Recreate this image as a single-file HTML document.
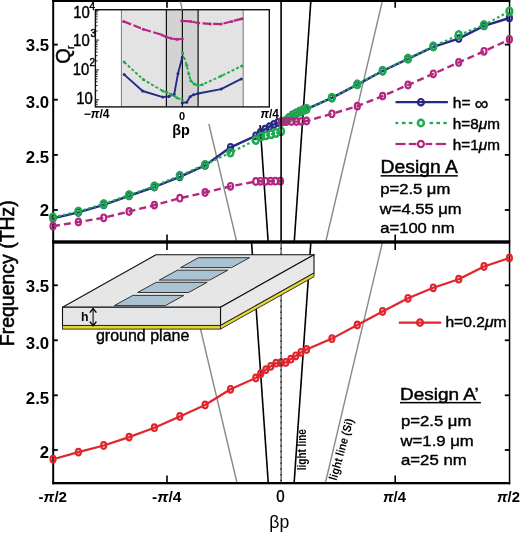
<!DOCTYPE html><html><head><meta charset="utf-8"><style>html,body{margin:0;padding:0;background:#fff;overflow:hidden;}svg{display:block;will-change:transform;}text{font-family:"Liberation Sans",sans-serif;}</style></head><body>
<svg width="520" height="533" viewBox="0 0 520 533">
<rect x="0" y="0" width="520" height="533" fill="#fff"/>
<line x1="260.1" y1="125" x2="268.1" y2="241" stroke="#000" stroke-width="1.6"/>
<line x1="310.9" y1="0" x2="294.3" y2="241" stroke="#000" stroke-width="1.6"/>
<line x1="208.9" y1="124" x2="236.5" y2="241" stroke="#8a8a8a" stroke-width="1.4"/>
<line x1="382.6" y1="0" x2="325.9" y2="241" stroke="#8a8a8a" stroke-width="1.4"/>
<line x1="251.6" y1="243" x2="268.2" y2="482" stroke="#000" stroke-width="1.6"/>
<line x1="310.8" y1="243" x2="294.2" y2="482" stroke="#000" stroke-width="1.6"/>
<line x1="193.6" y1="300" x2="236.8" y2="482" stroke="#8a8a8a" stroke-width="1.4"/>
<line x1="382.3" y1="243" x2="325.6" y2="482" stroke="#8a8a8a" stroke-width="1.4"/>
<rect x="52.2" y="0" width="2" height="484.3" fill="#000"/>
<rect x="52.2" y="0" width="458" height="2.0" fill="#000"/>
<rect x="508.8" y="0" width="1.5" height="484.3" fill="#000"/>
<rect x="52.2" y="482" width="458" height="2.3" fill="#000"/>
<rect x="52.2" y="240.3" width="458" height="3.4" fill="#000"/>
<polyline points="53.0,218.3 78.4,212.3 103.7,204.8 129.1,195.8 154.4,187.0 179.8,176.8 205.1,165.4 230.5,147.3 255.8,135.8 260.5,132.3 265.0,129.2 269.5,126.6 274.0,124.3 278.0,122.5" fill="none" stroke="#262a86" stroke-width="2.4" stroke-linejoin="round"/>
<ellipse cx="53.0" cy="218.3" rx="2.50" ry="3.30" fill="none" stroke="#262a86" stroke-width="2.2"/>
<ellipse cx="78.4" cy="212.3" rx="2.50" ry="3.30" fill="none" stroke="#262a86" stroke-width="2.2"/>
<ellipse cx="103.7" cy="204.8" rx="2.50" ry="3.30" fill="none" stroke="#262a86" stroke-width="2.2"/>
<ellipse cx="129.1" cy="195.8" rx="2.50" ry="3.30" fill="none" stroke="#262a86" stroke-width="2.2"/>
<ellipse cx="154.4" cy="187.0" rx="2.50" ry="3.30" fill="none" stroke="#262a86" stroke-width="2.2"/>
<ellipse cx="179.8" cy="176.8" rx="2.50" ry="3.30" fill="none" stroke="#262a86" stroke-width="2.2"/>
<ellipse cx="205.1" cy="165.4" rx="2.50" ry="3.30" fill="none" stroke="#262a86" stroke-width="2.2"/>
<ellipse cx="230.5" cy="147.3" rx="2.50" ry="3.30" fill="none" stroke="#262a86" stroke-width="2.2"/>
<ellipse cx="255.8" cy="135.8" rx="2.50" ry="3.30" fill="none" stroke="#262a86" stroke-width="2.2"/>
<ellipse cx="260.5" cy="132.3" rx="2.50" ry="3.30" fill="none" stroke="#262a86" stroke-width="2.2"/>
<ellipse cx="265.0" cy="129.2" rx="2.50" ry="3.30" fill="none" stroke="#262a86" stroke-width="2.2"/>
<ellipse cx="269.5" cy="126.6" rx="2.50" ry="3.30" fill="none" stroke="#262a86" stroke-width="2.2"/>
<ellipse cx="274.0" cy="124.3" rx="2.50" ry="3.30" fill="none" stroke="#262a86" stroke-width="2.2"/>
<ellipse cx="278.0" cy="122.5" rx="2.50" ry="3.30" fill="none" stroke="#262a86" stroke-width="2.2"/>
<polyline points="282.0,121.8 285.0,121.3 289.0,117.6 292.5,115.0 296.3,112.9 300.0,111.1 303.5,109.6 306.6,109.2 331.9,97.9 357.3,84.6 382.6,71.0 408.0,58.8 433.3,46.8 458.7,38.6 484.0,25.9 509.4,18.0" fill="none" stroke="#262a86" stroke-width="2.4" stroke-linejoin="round"/>
<ellipse cx="282.0" cy="121.8" rx="2.50" ry="3.30" fill="none" stroke="#262a86" stroke-width="2.2"/>
<ellipse cx="285.0" cy="121.3" rx="2.50" ry="3.30" fill="none" stroke="#262a86" stroke-width="2.2"/>
<ellipse cx="289.0" cy="117.6" rx="2.50" ry="3.30" fill="none" stroke="#262a86" stroke-width="2.2"/>
<ellipse cx="292.5" cy="115.0" rx="2.50" ry="3.30" fill="none" stroke="#262a86" stroke-width="2.2"/>
<ellipse cx="296.3" cy="112.9" rx="2.50" ry="3.30" fill="none" stroke="#262a86" stroke-width="2.2"/>
<ellipse cx="300.0" cy="111.1" rx="2.50" ry="3.30" fill="none" stroke="#262a86" stroke-width="2.2"/>
<ellipse cx="303.5" cy="109.6" rx="2.50" ry="3.30" fill="none" stroke="#262a86" stroke-width="2.2"/>
<ellipse cx="306.6" cy="109.2" rx="2.50" ry="3.30" fill="none" stroke="#262a86" stroke-width="2.2"/>
<ellipse cx="331.9" cy="97.9" rx="2.50" ry="3.30" fill="none" stroke="#262a86" stroke-width="2.2"/>
<ellipse cx="357.3" cy="84.6" rx="2.50" ry="3.30" fill="none" stroke="#262a86" stroke-width="2.2"/>
<ellipse cx="382.6" cy="71.0" rx="2.50" ry="3.30" fill="none" stroke="#262a86" stroke-width="2.2"/>
<ellipse cx="408.0" cy="58.8" rx="2.50" ry="3.30" fill="none" stroke="#262a86" stroke-width="2.2"/>
<ellipse cx="433.3" cy="46.8" rx="2.50" ry="3.30" fill="none" stroke="#262a86" stroke-width="2.2"/>
<ellipse cx="458.7" cy="38.6" rx="2.50" ry="3.30" fill="none" stroke="#262a86" stroke-width="2.2"/>
<ellipse cx="484.0" cy="25.9" rx="2.50" ry="3.30" fill="none" stroke="#262a86" stroke-width="2.2"/>
<ellipse cx="509.4" cy="18.0" rx="2.50" ry="3.30" fill="none" stroke="#262a86" stroke-width="2.2"/>
<polyline points="53.0,217.3 78.4,211.5 103.7,204.0 129.1,195.0 154.4,186.2 179.8,175.6 205.1,164.6 230.5,152.6 255.8,140.0 261.0,136.6 266.0,135.4 271.0,134.3 276.0,133.0 281.0,131.3" fill="none" stroke="#1fa94e" stroke-width="2.1" stroke-linejoin="round" stroke-dasharray="2.6,2.6"/>
<ellipse cx="53.0" cy="217.3" rx="2.90" ry="3.70" fill="none" stroke="#1fa94e" stroke-width="2.5"/>
<ellipse cx="78.4" cy="211.5" rx="2.90" ry="3.70" fill="none" stroke="#1fa94e" stroke-width="2.5"/>
<ellipse cx="103.7" cy="204.0" rx="2.90" ry="3.70" fill="none" stroke="#1fa94e" stroke-width="2.5"/>
<ellipse cx="129.1" cy="195.0" rx="2.90" ry="3.70" fill="none" stroke="#1fa94e" stroke-width="2.5"/>
<ellipse cx="154.4" cy="186.2" rx="2.90" ry="3.70" fill="none" stroke="#1fa94e" stroke-width="2.5"/>
<ellipse cx="179.8" cy="175.6" rx="2.90" ry="3.70" fill="none" stroke="#1fa94e" stroke-width="2.5"/>
<ellipse cx="205.1" cy="164.6" rx="2.90" ry="3.70" fill="none" stroke="#1fa94e" stroke-width="2.5"/>
<ellipse cx="230.5" cy="152.6" rx="2.90" ry="3.70" fill="none" stroke="#1fa94e" stroke-width="2.5"/>
<ellipse cx="255.8" cy="140.0" rx="2.90" ry="3.70" fill="none" stroke="#1fa94e" stroke-width="2.5"/>
<ellipse cx="261.0" cy="136.6" rx="2.90" ry="3.70" fill="none" stroke="#1fa94e" stroke-width="2.5"/>
<ellipse cx="266.0" cy="135.4" rx="2.90" ry="3.70" fill="none" stroke="#1fa94e" stroke-width="2.5"/>
<ellipse cx="271.0" cy="134.3" rx="2.90" ry="3.70" fill="none" stroke="#1fa94e" stroke-width="2.5"/>
<ellipse cx="276.0" cy="133.0" rx="2.90" ry="3.70" fill="none" stroke="#1fa94e" stroke-width="2.5"/>
<ellipse cx="281.0" cy="131.3" rx="2.90" ry="3.70" fill="none" stroke="#1fa94e" stroke-width="2.5"/>
<polyline points="282.0,121.6 285.0,121.0 289.0,118.0 292.5,115.6 296.3,113.4 300.0,111.6 303.5,110.0 306.6,108.8 331.9,97.7 357.3,84.3 382.6,70.7 408.0,58.5 433.3,46.3 458.7,35.0 484.0,25.0 509.4,11.3" fill="none" stroke="#1fa94e" stroke-width="2.1" stroke-linejoin="round" stroke-dasharray="2.6,2.6"/>
<ellipse cx="282.0" cy="121.6" rx="2.90" ry="3.70" fill="none" stroke="#1fa94e" stroke-width="2.5"/>
<ellipse cx="285.0" cy="121.0" rx="2.90" ry="3.70" fill="none" stroke="#1fa94e" stroke-width="2.5"/>
<ellipse cx="289.0" cy="118.0" rx="2.90" ry="3.70" fill="none" stroke="#1fa94e" stroke-width="2.5"/>
<ellipse cx="292.5" cy="115.6" rx="2.90" ry="3.70" fill="none" stroke="#1fa94e" stroke-width="2.5"/>
<ellipse cx="296.3" cy="113.4" rx="2.90" ry="3.70" fill="none" stroke="#1fa94e" stroke-width="2.5"/>
<ellipse cx="300.0" cy="111.6" rx="2.90" ry="3.70" fill="none" stroke="#1fa94e" stroke-width="2.5"/>
<ellipse cx="303.5" cy="110.0" rx="2.90" ry="3.70" fill="none" stroke="#1fa94e" stroke-width="2.5"/>
<ellipse cx="306.6" cy="108.8" rx="2.90" ry="3.70" fill="none" stroke="#1fa94e" stroke-width="2.5"/>
<ellipse cx="331.9" cy="97.7" rx="2.90" ry="3.70" fill="none" stroke="#1fa94e" stroke-width="2.5"/>
<ellipse cx="357.3" cy="84.3" rx="2.90" ry="3.70" fill="none" stroke="#1fa94e" stroke-width="2.5"/>
<ellipse cx="382.6" cy="70.7" rx="2.90" ry="3.70" fill="none" stroke="#1fa94e" stroke-width="2.5"/>
<ellipse cx="408.0" cy="58.5" rx="2.90" ry="3.70" fill="none" stroke="#1fa94e" stroke-width="2.5"/>
<ellipse cx="433.3" cy="46.3" rx="2.90" ry="3.70" fill="none" stroke="#1fa94e" stroke-width="2.5"/>
<ellipse cx="458.7" cy="35.0" rx="2.90" ry="3.70" fill="none" stroke="#1fa94e" stroke-width="2.5"/>
<ellipse cx="484.0" cy="25.0" rx="2.90" ry="3.70" fill="none" stroke="#1fa94e" stroke-width="2.5"/>
<ellipse cx="509.4" cy="11.3" rx="2.90" ry="3.70" fill="none" stroke="#1fa94e" stroke-width="2.5"/>
<polyline points="53.0,226.1 78.4,222.0 103.7,217.8 129.1,211.5 154.4,205.1 179.8,198.2 205.1,192.5 230.5,186.3 255.8,181.5 260.5,181.3 265.5,181.3 270.5,181.2 275.5,181.2 280.5,181.2" fill="none" stroke="#b4267f" stroke-width="2.4" stroke-linejoin="round" stroke-dasharray="7,4"/>
<ellipse cx="53.0" cy="226.1" rx="2.50" ry="3.30" fill="none" stroke="#b4267f" stroke-width="2.2"/>
<ellipse cx="78.4" cy="222.0" rx="2.50" ry="3.30" fill="none" stroke="#b4267f" stroke-width="2.2"/>
<ellipse cx="103.7" cy="217.8" rx="2.50" ry="3.30" fill="none" stroke="#b4267f" stroke-width="2.2"/>
<ellipse cx="129.1" cy="211.5" rx="2.50" ry="3.30" fill="none" stroke="#b4267f" stroke-width="2.2"/>
<ellipse cx="154.4" cy="205.1" rx="2.50" ry="3.30" fill="none" stroke="#b4267f" stroke-width="2.2"/>
<ellipse cx="179.8" cy="198.2" rx="2.50" ry="3.30" fill="none" stroke="#b4267f" stroke-width="2.2"/>
<ellipse cx="205.1" cy="192.5" rx="2.50" ry="3.30" fill="none" stroke="#b4267f" stroke-width="2.2"/>
<ellipse cx="230.5" cy="186.3" rx="2.50" ry="3.30" fill="none" stroke="#b4267f" stroke-width="2.2"/>
<ellipse cx="255.8" cy="181.5" rx="2.50" ry="3.30" fill="none" stroke="#b4267f" stroke-width="2.2"/>
<ellipse cx="260.5" cy="181.3" rx="2.50" ry="3.30" fill="none" stroke="#b4267f" stroke-width="2.2"/>
<ellipse cx="265.5" cy="181.3" rx="2.50" ry="3.30" fill="none" stroke="#b4267f" stroke-width="2.2"/>
<ellipse cx="270.5" cy="181.2" rx="2.50" ry="3.30" fill="none" stroke="#b4267f" stroke-width="2.2"/>
<ellipse cx="275.5" cy="181.2" rx="2.50" ry="3.30" fill="none" stroke="#b4267f" stroke-width="2.2"/>
<ellipse cx="280.5" cy="181.2" rx="2.50" ry="3.30" fill="none" stroke="#b4267f" stroke-width="2.2"/>
<polyline points="281.5,121.6 286.5,121.6 291.5,121.6 296.5,121.6 301.5,121.4 306.6,121.0 331.9,113.8 357.3,106.2 382.6,96.1 408.0,85.0 433.3,73.8 458.7,62.5 484.0,51.3 509.4,39.5" fill="none" stroke="#b4267f" stroke-width="2.4" stroke-linejoin="round" stroke-dasharray="7,4"/>
<ellipse cx="281.5" cy="121.6" rx="2.50" ry="3.30" fill="none" stroke="#b4267f" stroke-width="2.2"/>
<ellipse cx="286.5" cy="121.6" rx="2.50" ry="3.30" fill="none" stroke="#b4267f" stroke-width="2.2"/>
<ellipse cx="291.5" cy="121.6" rx="2.50" ry="3.30" fill="none" stroke="#b4267f" stroke-width="2.2"/>
<ellipse cx="296.5" cy="121.6" rx="2.50" ry="3.30" fill="none" stroke="#b4267f" stroke-width="2.2"/>
<ellipse cx="301.5" cy="121.4" rx="2.50" ry="3.30" fill="none" stroke="#b4267f" stroke-width="2.2"/>
<ellipse cx="306.6" cy="121.0" rx="2.50" ry="3.30" fill="none" stroke="#b4267f" stroke-width="2.2"/>
<ellipse cx="331.9" cy="113.8" rx="2.50" ry="3.30" fill="none" stroke="#b4267f" stroke-width="2.2"/>
<ellipse cx="357.3" cy="106.2" rx="2.50" ry="3.30" fill="none" stroke="#b4267f" stroke-width="2.2"/>
<ellipse cx="382.6" cy="96.1" rx="2.50" ry="3.30" fill="none" stroke="#b4267f" stroke-width="2.2"/>
<ellipse cx="408.0" cy="85.0" rx="2.50" ry="3.30" fill="none" stroke="#b4267f" stroke-width="2.2"/>
<ellipse cx="433.3" cy="73.8" rx="2.50" ry="3.30" fill="none" stroke="#b4267f" stroke-width="2.2"/>
<ellipse cx="458.7" cy="62.5" rx="2.50" ry="3.30" fill="none" stroke="#b4267f" stroke-width="2.2"/>
<ellipse cx="484.0" cy="51.3" rx="2.50" ry="3.30" fill="none" stroke="#b4267f" stroke-width="2.2"/>
<ellipse cx="509.4" cy="39.5" rx="2.50" ry="3.30" fill="none" stroke="#b4267f" stroke-width="2.2"/>
<polyline points="53.0,459.2 78.4,452.1 103.7,445.5 129.1,437.1 154.4,427.7 179.8,416.5 205.1,405.0 230.5,389.3 255.8,378.0 260.7,373.7 265.9,369.6 270.8,366.3 276.0,363.2 281.0,362.7 285.8,362.5 290.8,359.2 295.8,355.8 301.0,352.3 306.6,349.5 331.9,338.6 357.3,325.0 382.6,311.5 408.0,298.3 433.3,287.8 458.7,279.2 484.0,266.5 509.4,258.0" fill="none" stroke="#e0252c" stroke-width="2.2" stroke-linejoin="round"/>
<ellipse cx="53.0" cy="459.2" rx="2.50" ry="3.30" fill="none" stroke="#e0252c" stroke-width="2.2"/>
<ellipse cx="78.4" cy="452.1" rx="2.50" ry="3.30" fill="none" stroke="#e0252c" stroke-width="2.2"/>
<ellipse cx="103.7" cy="445.5" rx="2.50" ry="3.30" fill="none" stroke="#e0252c" stroke-width="2.2"/>
<ellipse cx="129.1" cy="437.1" rx="2.50" ry="3.30" fill="none" stroke="#e0252c" stroke-width="2.2"/>
<ellipse cx="154.4" cy="427.7" rx="2.50" ry="3.30" fill="none" stroke="#e0252c" stroke-width="2.2"/>
<ellipse cx="179.8" cy="416.5" rx="2.50" ry="3.30" fill="none" stroke="#e0252c" stroke-width="2.2"/>
<ellipse cx="205.1" cy="405.0" rx="2.50" ry="3.30" fill="none" stroke="#e0252c" stroke-width="2.2"/>
<ellipse cx="230.5" cy="389.3" rx="2.50" ry="3.30" fill="none" stroke="#e0252c" stroke-width="2.2"/>
<ellipse cx="255.8" cy="378.0" rx="2.50" ry="3.30" fill="none" stroke="#e0252c" stroke-width="2.2"/>
<ellipse cx="260.7" cy="373.7" rx="2.50" ry="3.30" fill="none" stroke="#e0252c" stroke-width="2.2"/>
<ellipse cx="265.9" cy="369.6" rx="2.50" ry="3.30" fill="none" stroke="#e0252c" stroke-width="2.2"/>
<ellipse cx="270.8" cy="366.3" rx="2.50" ry="3.30" fill="none" stroke="#e0252c" stroke-width="2.2"/>
<ellipse cx="276.0" cy="363.2" rx="2.50" ry="3.30" fill="none" stroke="#e0252c" stroke-width="2.2"/>
<ellipse cx="281.0" cy="362.7" rx="2.50" ry="3.30" fill="none" stroke="#e0252c" stroke-width="2.2"/>
<ellipse cx="285.8" cy="362.5" rx="2.50" ry="3.30" fill="none" stroke="#e0252c" stroke-width="2.2"/>
<ellipse cx="290.8" cy="359.2" rx="2.50" ry="3.30" fill="none" stroke="#e0252c" stroke-width="2.2"/>
<ellipse cx="295.8" cy="355.8" rx="2.50" ry="3.30" fill="none" stroke="#e0252c" stroke-width="2.2"/>
<ellipse cx="301.0" cy="352.3" rx="2.50" ry="3.30" fill="none" stroke="#e0252c" stroke-width="2.2"/>
<ellipse cx="306.6" cy="349.5" rx="2.50" ry="3.30" fill="none" stroke="#e0252c" stroke-width="2.2"/>
<ellipse cx="331.9" cy="338.6" rx="2.50" ry="3.30" fill="none" stroke="#e0252c" stroke-width="2.2"/>
<ellipse cx="357.3" cy="325.0" rx="2.50" ry="3.30" fill="none" stroke="#e0252c" stroke-width="2.2"/>
<ellipse cx="382.6" cy="311.5" rx="2.50" ry="3.30" fill="none" stroke="#e0252c" stroke-width="2.2"/>
<ellipse cx="408.0" cy="298.3" rx="2.50" ry="3.30" fill="none" stroke="#e0252c" stroke-width="2.2"/>
<ellipse cx="433.3" cy="287.8" rx="2.50" ry="3.30" fill="none" stroke="#e0252c" stroke-width="2.2"/>
<ellipse cx="458.7" cy="279.2" rx="2.50" ry="3.30" fill="none" stroke="#e0252c" stroke-width="2.2"/>
<ellipse cx="484.0" cy="266.5" rx="2.50" ry="3.30" fill="none" stroke="#e0252c" stroke-width="2.2"/>
<ellipse cx="509.4" cy="258.0" rx="2.50" ry="3.30" fill="none" stroke="#e0252c" stroke-width="2.2"/>
<line x1="281.1" y1="0" x2="281.1" y2="242" stroke="#000" stroke-width="1.6"/>
<line x1="281.1" y1="242" x2="281.1" y2="482" stroke="#555" stroke-width="1.3"/>
<line x1="281.1" y1="242" x2="281.1" y2="482" stroke="#1a1a1a" stroke-width="1.3" stroke-dasharray="1.5,4.3"/>
<rect x="54" y="43.7" width="3.8" height="1.8" fill="#000"/>
<rect x="504.8" y="43.7" width="4.2" height="1.8" fill="#000"/>
<text x="49.2" y="51.3" font-size="16.8" font-weight="bold" text-anchor="end" fill="#000"  style="">3.5</text>
<rect x="54" y="98.8" width="3.8" height="1.8" fill="#000"/>
<rect x="504.8" y="98.8" width="4.2" height="1.8" fill="#000"/>
<text x="49.2" y="107.8" font-size="16.8" font-weight="bold" text-anchor="end" fill="#000"  style="">3.0</text>
<rect x="54" y="154.0" width="3.8" height="1.8" fill="#000"/>
<rect x="504.8" y="154.0" width="4.2" height="1.8" fill="#000"/>
<text x="49.2" y="163.3" font-size="16.8" font-weight="bold" text-anchor="end" fill="#000"  style="">2.5</text>
<rect x="54" y="209.1" width="3.8" height="1.8" fill="#000"/>
<rect x="504.8" y="209.1" width="4.2" height="1.8" fill="#000"/>
<text x="49.2" y="216.4" font-size="16.8" font-weight="bold" text-anchor="end" fill="#000"  style="">2</text>
<rect x="54" y="284.4" width="3.8" height="1.8" fill="#000"/>
<rect x="504.8" y="284.4" width="4.2" height="1.8" fill="#000"/>
<text x="49.2" y="292.3" font-size="16.8" font-weight="bold" text-anchor="end" fill="#000"  style="">3.5</text>
<rect x="54" y="339.4" width="3.8" height="1.8" fill="#000"/>
<rect x="504.8" y="339.4" width="4.2" height="1.8" fill="#000"/>
<text x="49.2" y="348.9" font-size="16.8" font-weight="bold" text-anchor="end" fill="#000"  style="">3.0</text>
<rect x="54" y="394.4" width="3.8" height="1.8" fill="#000"/>
<rect x="504.8" y="394.4" width="4.2" height="1.8" fill="#000"/>
<text x="49.2" y="404.0" font-size="16.8" font-weight="bold" text-anchor="end" fill="#000"  style="">2.5</text>
<rect x="54" y="449.1" width="3.8" height="1.8" fill="#000"/>
<rect x="504.8" y="449.1" width="4.2" height="1.8" fill="#000"/>
<text x="49.2" y="458.2" font-size="16.8" font-weight="bold" text-anchor="end" fill="#000"  style="">2</text>
<rect x="166.2" y="1" width="1.6" height="6.8" fill="#000"/>
<rect x="166.2" y="234.5" width="1.6" height="15.5" fill="#000"/>
<rect x="166.2" y="475.5" width="1.6" height="7" fill="#000"/>
<rect x="394.4" y="1" width="1.6" height="6.8" fill="#000"/>
<rect x="394.4" y="234.5" width="1.6" height="15.5" fill="#000"/>
<rect x="394.4" y="475.5" width="1.6" height="7" fill="#000"/>
<text x="52.8" y="501.8" font-size="13.8" font-weight="bold" text-anchor="middle" fill="#000" textLength="28.5" lengthAdjust="spacingAndGlyphs"  style="">-<tspan font-style="italic">π</tspan>/2</text>
<text x="166.8" y="501.8" font-size="13.8" font-weight="bold" text-anchor="middle" fill="#000" textLength="29.4" lengthAdjust="spacingAndGlyphs"  style="">-<tspan font-style="italic">π</tspan>/4</text>
<text x="280.5" y="502.3" font-size="16.8" font-weight="normal" text-anchor="middle" fill="#000" textLength="8.4" lengthAdjust="spacingAndGlyphs" stroke="#000" stroke-width="0.45"  style="">0</text>
<text x="394.5" y="501.8" font-size="13.8" font-weight="bold" text-anchor="middle" fill="#000" textLength="23" lengthAdjust="spacingAndGlyphs"  style=""><tspan font-style="italic">π</tspan>/4</text>
<text x="508.5" y="501.8" font-size="13.8" font-weight="bold" text-anchor="middle" fill="#000" textLength="23" lengthAdjust="spacingAndGlyphs"  style=""><tspan font-style="italic">π</tspan>/2</text>
<text x="279.3" y="528.2" font-size="17.6" font-weight="normal" text-anchor="middle" fill="#000"  style="">βp</text>
<text x="0" y="0" font-size="19.6" text-anchor="middle" stroke="#000" stroke-width="0.55" textLength="146" lengthAdjust="spacingAndGlyphs" transform="translate(14.3,273.2) rotate(-90)">Frequency (THz)</text>
<rect x="95.4" y="9.7" width="173.9" height="97.2" fill="#fff"/>
<rect x="121.4" y="9.7" width="121.79999999999998" height="97.2" fill="#e3e3e3"/>
<rect x="166.4" y="9.7" width="31.69999999999999" height="97.2" fill="#d3d3d3"/>
<line x1="121.4" y1="9.7" x2="121.4" y2="106.9" stroke="#6a6a6a" stroke-width="0.9"/>
<line x1="243.2" y1="9.7" x2="243.2" y2="106.9" stroke="#6a6a6a" stroke-width="0.9"/>
<line x1="166.4" y1="9.7" x2="166.4" y2="106.9" stroke="#111" stroke-width="1.2"/>
<line x1="182.4" y1="9.7" x2="182.4" y2="106.9" stroke="#111" stroke-width="1.2"/>
<line x1="198.1" y1="9.7" x2="198.1" y2="106.9" stroke="#111" stroke-width="1.2"/>
<polyline points="123.7,21.4 143.3,29.2 162.1,34.9 166.1,36.9 171.5,38.5 176.9,39.3 182.3,38.9" fill="none" stroke="#b4267f" stroke-width="2.2" stroke-linejoin="round" stroke-dasharray="8,2.5"/>
<circle cx="123.7" cy="21.4" r="1.5" fill="#b4267f"/>
<circle cx="143.3" cy="29.2" r="1.5" fill="#b4267f"/>
<circle cx="162.1" cy="34.9" r="1.5" fill="#b4267f"/>
<circle cx="166.1" cy="36.9" r="1.5" fill="#b4267f"/>
<circle cx="171.5" cy="38.5" r="1.5" fill="#b4267f"/>
<circle cx="176.9" cy="39.3" r="1.5" fill="#b4267f"/>
<circle cx="182.3" cy="38.9" r="1.5" fill="#b4267f"/>
<polyline points="181.8,20.8 190.8,21.4 198.2,23.0 210.3,23.9 221.1,24.1 231.8,21.4 241.9,18.7" fill="none" stroke="#b4267f" stroke-width="2.2" stroke-linejoin="round" stroke-dasharray="8,2.5"/>
<circle cx="181.8" cy="20.8" r="1.5" fill="#b4267f"/>
<circle cx="190.8" cy="21.4" r="1.5" fill="#b4267f"/>
<circle cx="198.2" cy="23.0" r="1.5" fill="#b4267f"/>
<circle cx="210.3" cy="23.9" r="1.5" fill="#b4267f"/>
<circle cx="221.1" cy="24.1" r="1.5" fill="#b4267f"/>
<circle cx="231.8" cy="21.4" r="1.5" fill="#b4267f"/>
<circle cx="241.9" cy="18.7" r="1.5" fill="#b4267f"/>
<polyline points="124.2,74.6 142.6,91.0 162.8,97.1 168.8,96.4 174.2,94.4 178.0,73.6 182.3,57.2" fill="none" stroke="#262a86" stroke-width="1.9" stroke-linejoin="round"/>
<circle cx="124.2" cy="74.6" r="1.5" fill="#262a86"/>
<circle cx="142.6" cy="91.0" r="1.5" fill="#262a86"/>
<circle cx="162.8" cy="97.1" r="1.5" fill="#262a86"/>
<circle cx="168.8" cy="96.4" r="1.5" fill="#262a86"/>
<circle cx="174.2" cy="94.4" r="1.5" fill="#262a86"/>
<circle cx="178.0" cy="73.6" r="1.5" fill="#262a86"/>
<circle cx="182.3" cy="57.2" r="1.5" fill="#262a86"/>
<polyline points="182.3,102.9 186.7,102.2 190.1,96.8 193.5,94.8 198.2,93.5 221.1,89.1 241.3,78.9" fill="none" stroke="#262a86" stroke-width="1.9" stroke-linejoin="round"/>
<circle cx="182.3" cy="102.9" r="1.5" fill="#262a86"/>
<circle cx="186.7" cy="102.2" r="1.5" fill="#262a86"/>
<circle cx="190.1" cy="96.8" r="1.5" fill="#262a86"/>
<circle cx="193.5" cy="94.8" r="1.5" fill="#262a86"/>
<circle cx="198.2" cy="93.5" r="1.5" fill="#262a86"/>
<circle cx="221.1" cy="89.1" r="1.5" fill="#262a86"/>
<circle cx="241.3" cy="78.9" r="1.5" fill="#262a86"/>
<polyline points="124.2,62.1 143.3,79.6 162.8,91.0 166.8,92.4 171.5,94.4 176.9,97.8 182.3,99.8" fill="none" stroke="#1fa94e" stroke-width="1.9" stroke-linejoin="round" stroke-dasharray="3,2"/>
<circle cx="124.2" cy="62.1" r="1.5" fill="#1fa94e"/>
<circle cx="143.3" cy="79.6" r="1.5" fill="#1fa94e"/>
<circle cx="162.8" cy="91.0" r="1.5" fill="#1fa94e"/>
<circle cx="166.8" cy="92.4" r="1.5" fill="#1fa94e"/>
<circle cx="171.5" cy="94.4" r="1.5" fill="#1fa94e"/>
<circle cx="176.9" cy="97.8" r="1.5" fill="#1fa94e"/>
<circle cx="182.3" cy="99.8" r="1.5" fill="#1fa94e"/>
<polyline points="182.5,52.4 186.7,65.2 188.8,73.9 190.8,80.7 194.2,84.0 198.2,85.4 202.2,84.7 221.1,76.0 241.9,65.9" fill="none" stroke="#1fa94e" stroke-width="1.9" stroke-linejoin="round" stroke-dasharray="3,2"/>
<circle cx="182.5" cy="52.4" r="1.5" fill="#1fa94e"/>
<circle cx="186.7" cy="65.2" r="1.5" fill="#1fa94e"/>
<circle cx="188.8" cy="73.9" r="1.5" fill="#1fa94e"/>
<circle cx="190.8" cy="80.7" r="1.5" fill="#1fa94e"/>
<circle cx="194.2" cy="84.0" r="1.5" fill="#1fa94e"/>
<circle cx="198.2" cy="85.4" r="1.5" fill="#1fa94e"/>
<circle cx="202.2" cy="84.7" r="1.5" fill="#1fa94e"/>
<circle cx="221.1" cy="76.0" r="1.5" fill="#1fa94e"/>
<circle cx="241.9" cy="65.9" r="1.5" fill="#1fa94e"/>
<rect x="95.4" y="9.7" width="173.9" height="97.2" fill="none" stroke="#111" stroke-width="1.4"/>
<line x1="95.4" y1="99.75" x2="99.0" y2="99.75" stroke="#111" stroke-width="0.9"/>
<line x1="95.4" y1="90.76" x2="97.60000000000001" y2="90.76" stroke="#111" stroke-width="0.9"/>
<line x1="95.4" y1="85.51" x2="97.60000000000001" y2="85.51" stroke="#111" stroke-width="0.9"/>
<line x1="95.4" y1="81.78" x2="97.60000000000001" y2="81.78" stroke="#111" stroke-width="0.9"/>
<line x1="95.4" y1="78.89" x2="97.60000000000001" y2="78.89" stroke="#111" stroke-width="0.9"/>
<line x1="95.4" y1="76.52" x2="97.60000000000001" y2="76.52" stroke="#111" stroke-width="0.9"/>
<line x1="95.4" y1="74.52" x2="97.60000000000001" y2="74.52" stroke="#111" stroke-width="0.9"/>
<line x1="95.4" y1="72.79" x2="97.60000000000001" y2="72.79" stroke="#111" stroke-width="0.9"/>
<line x1="95.4" y1="71.27" x2="97.60000000000001" y2="71.27" stroke="#111" stroke-width="0.9"/>
<line x1="95.4" y1="69.90" x2="99.0" y2="69.90" stroke="#111" stroke-width="0.9"/>
<line x1="95.4" y1="60.91" x2="97.60000000000001" y2="60.91" stroke="#111" stroke-width="0.9"/>
<line x1="95.4" y1="55.66" x2="97.60000000000001" y2="55.66" stroke="#111" stroke-width="0.9"/>
<line x1="95.4" y1="51.93" x2="97.60000000000001" y2="51.93" stroke="#111" stroke-width="0.9"/>
<line x1="95.4" y1="49.04" x2="97.60000000000001" y2="49.04" stroke="#111" stroke-width="0.9"/>
<line x1="95.4" y1="46.67" x2="97.60000000000001" y2="46.67" stroke="#111" stroke-width="0.9"/>
<line x1="95.4" y1="44.67" x2="97.60000000000001" y2="44.67" stroke="#111" stroke-width="0.9"/>
<line x1="95.4" y1="42.94" x2="97.60000000000001" y2="42.94" stroke="#111" stroke-width="0.9"/>
<line x1="95.4" y1="41.42" x2="97.60000000000001" y2="41.42" stroke="#111" stroke-width="0.9"/>
<line x1="95.4" y1="40.05" x2="99.0" y2="40.05" stroke="#111" stroke-width="0.9"/>
<line x1="95.4" y1="31.06" x2="97.60000000000001" y2="31.06" stroke="#111" stroke-width="0.9"/>
<line x1="95.4" y1="25.81" x2="97.60000000000001" y2="25.81" stroke="#111" stroke-width="0.9"/>
<line x1="95.4" y1="22.08" x2="97.60000000000001" y2="22.08" stroke="#111" stroke-width="0.9"/>
<line x1="95.4" y1="19.19" x2="97.60000000000001" y2="19.19" stroke="#111" stroke-width="0.9"/>
<line x1="95.4" y1="16.82" x2="97.60000000000001" y2="16.82" stroke="#111" stroke-width="0.9"/>
<line x1="95.4" y1="14.82" x2="97.60000000000001" y2="14.82" stroke="#111" stroke-width="0.9"/>
<line x1="95.4" y1="13.09" x2="97.60000000000001" y2="13.09" stroke="#111" stroke-width="0.9"/>
<line x1="95.4" y1="11.57" x2="97.60000000000001" y2="11.57" stroke="#111" stroke-width="0.9"/>
<line x1="95.4" y1="10.20" x2="99.0" y2="10.20" stroke="#111" stroke-width="0.9"/>
<line x1="95.4" y1="101.12" x2="97.60000000000001" y2="101.12" stroke="#111" stroke-width="0.9"/>
<line x1="95.4" y1="102.64" x2="97.60000000000001" y2="102.64" stroke="#111" stroke-width="0.9"/>
<line x1="95.4" y1="104.37" x2="97.60000000000001" y2="104.37" stroke="#111" stroke-width="0.9"/>
<line x1="95.4" y1="106.37" x2="97.60000000000001" y2="106.37" stroke="#111" stroke-width="0.9"/>
<text x="73.3" y="18.1" font-size="16.6" font-weight="normal" text-anchor="start" fill="#000" textLength="16.6" lengthAdjust="spacingAndGlyphs" stroke="#000" stroke-width="0.4"  style="">10</text>
<text x="89.5" y="9.7" font-size="10" font-weight="normal" text-anchor="start" fill="#000" stroke="#000" stroke-width="0.45"  style="">4</text>
<text x="73.1" y="46.1" font-size="16.6" font-weight="normal" text-anchor="start" fill="#000" textLength="16.6" lengthAdjust="spacingAndGlyphs" stroke="#000" stroke-width="0.4"  style="">10</text>
<text x="90.4" y="37.0" font-size="10" font-weight="normal" text-anchor="start" fill="#000" stroke="#000" stroke-width="0.45"  style="">3</text>
<text x="72.8" y="74.6" font-size="16.6" font-weight="normal" text-anchor="start" fill="#000" textLength="16.6" lengthAdjust="spacingAndGlyphs" stroke="#000" stroke-width="0.4"  style="">10</text>
<text x="89.4" y="65.9" font-size="10" font-weight="normal" text-anchor="start" fill="#000" stroke="#000" stroke-width="0.45"  style="">2</text>
<text x="76.3" y="103.5" font-size="16.6" font-weight="normal" text-anchor="start" fill="#000" textLength="16.6" lengthAdjust="spacingAndGlyphs" stroke="#000" stroke-width="0.4"  style="">10</text>
<text x="0" y="0" font-size="20" stroke="#000" stroke-width="0.5" transform="translate(69.8,63.8) rotate(-90)">Q</text>
<text x="0" y="0" font-size="10.5" stroke="#000" stroke-width="0.3" transform="translate(73.9,48.9) rotate(-90)">r</text>
<text x="83.8" y="118.1" font-size="12" font-weight="bold" text-anchor="start" fill="#000" textLength="25.8" lengthAdjust="spacingAndGlyphs"  style="">−<tspan font-style="italic">π</tspan>/4</text>
<text x="260.5" y="117.5" font-size="13.4" font-weight="bold" text-anchor="start" fill="#000" textLength="18.5" lengthAdjust="spacingAndGlyphs"  style=""><tspan font-style="italic">π</tspan>/4</text>
<text x="182.0" y="120.1" font-size="11" font-weight="bold" text-anchor="middle" fill="#000"  style="">0</text>
<text x="172.3" y="134.6" font-size="15.5" font-weight="bold" text-anchor="start" fill="#000" textLength="17.6" lengthAdjust="spacingAndGlyphs"  style="">βp</text>
<line x1="395.5" y1="102.2" x2="447.9" y2="102.2" stroke="#262a86" stroke-width="2.2"/>
<ellipse cx="420.9" cy="102.2" rx="3.0" ry="3.2" fill="none" stroke="#262a86" stroke-width="2.2"/>
<line x1="395.5" y1="123.0" x2="398.2" y2="123.0" stroke="#1fa94e" stroke-width="2.3"/>
<line x1="401.9" y1="123.0" x2="405.6" y2="123.0" stroke="#1fa94e" stroke-width="2.3"/>
<line x1="408.8" y1="123.0" x2="412.5" y2="123.0" stroke="#1fa94e" stroke-width="2.3"/>
<line x1="429.6" y1="123.0" x2="433.0" y2="123.0" stroke="#1fa94e" stroke-width="2.3"/>
<line x1="436.4" y1="123.0" x2="440.0" y2="123.0" stroke="#1fa94e" stroke-width="2.3"/>
<line x1="443.4" y1="123.0" x2="446.8" y2="123.0" stroke="#1fa94e" stroke-width="2.3"/>
<ellipse cx="420.9" cy="123.0" rx="3.0" ry="3.2" fill="none" stroke="#1fa94e" stroke-width="2.5"/>
<line x1="395.5" y1="144.0" x2="405.6" y2="144.0" stroke="#b4267f" stroke-width="2.2"/>
<line x1="408.8" y1="144.0" x2="416.5" y2="144.0" stroke="#b4267f" stroke-width="2.2"/>
<line x1="425.5" y1="144.0" x2="432.2" y2="144.0" stroke="#b4267f" stroke-width="2.2"/>
<line x1="435.7" y1="144.0" x2="446.0" y2="144.0" stroke="#b4267f" stroke-width="2.2"/>
<ellipse cx="420.9" cy="144.0" rx="3.0" ry="3.2" fill="none" stroke="#b4267f" stroke-width="2.2"/>
<text x="452.8" y="108.3" font-size="15.5" font-weight="normal" text-anchor="start" fill="#000" textLength="35.7" lengthAdjust="spacingAndGlyphs" stroke="#000" stroke-width="0.45"  style="">h= <tspan font-size="19" dy="1.2">∞</tspan></text>
<text x="452.8" y="129.1" font-size="15.5" font-weight="normal" text-anchor="start" fill="#000" textLength="47.1" lengthAdjust="spacingAndGlyphs" stroke="#000" stroke-width="0.45"  style="">h=8<tspan font-style="italic">μ</tspan>m</text>
<text x="452.8" y="150.2" font-size="15.5" font-weight="normal" text-anchor="start" fill="#000" textLength="47.1" lengthAdjust="spacingAndGlyphs" stroke="#000" stroke-width="0.45"  style="">h=1<tspan font-style="italic">μ</tspan>m</text>
<text x="380.6" y="173.3" font-size="17.7" font-weight="normal" text-anchor="start" fill="#000" textLength="77.2" lengthAdjust="spacingAndGlyphs" stroke="#000" stroke-width="0.45"  style="">Design A</text>
<rect x="380.6" y="175.1" width="77.2" height="1.5" fill="#000"/>
<text x="380.2" y="194.4" font-size="15.2" font-weight="normal" text-anchor="start" fill="#000" textLength="70.1" lengthAdjust="spacingAndGlyphs" stroke="#000" stroke-width="0.4"  style="">p=2.5 μm</text>
<text x="379.8" y="214.4" font-size="15.2" font-weight="normal" text-anchor="start" fill="#000" textLength="81.7" lengthAdjust="spacingAndGlyphs" stroke="#000" stroke-width="0.4"  style="">w=4.55 μm</text>
<text x="380.2" y="233.0" font-size="15.2" font-weight="normal" text-anchor="start" fill="#000" textLength="74.4" lengthAdjust="spacingAndGlyphs" stroke="#000" stroke-width="0.4"  style="">a=100 nm</text>
<line x1="398.8" y1="322.6" x2="441.2" y2="322.6" stroke="#e0252c" stroke-width="2.4"/>
<ellipse cx="420.0" cy="322.6" rx="3.0" ry="3.2" fill="none" stroke="#e0252c" stroke-width="2.2"/>
<text x="445.4" y="327.0" font-size="15.5" font-weight="normal" text-anchor="start" fill="#000" textLength="61.1" lengthAdjust="spacingAndGlyphs" stroke="#000" stroke-width="0.45"  style="">h=0.2<tspan font-style="italic">μ</tspan>m</text>
<text x="400.0" y="400.2" font-size="17.4" font-weight="normal" text-anchor="start" fill="#000" textLength="78.8" lengthAdjust="spacingAndGlyphs" stroke="#000" stroke-width="0.45"  style="">Design A’</text>
<rect x="400.0" y="401.9" width="80.9" height="1.5" fill="#000"/>
<text x="401.0" y="426.0" font-size="15.2" font-weight="normal" text-anchor="start" fill="#000" textLength="70.4" lengthAdjust="spacingAndGlyphs" stroke="#000" stroke-width="0.4"  style="">p=2.5 μm</text>
<text x="400.5" y="445.7" font-size="15.2" font-weight="normal" text-anchor="start" fill="#000" textLength="73.3" lengthAdjust="spacingAndGlyphs" stroke="#000" stroke-width="0.4"  style="">w=1.9 μm</text>
<text x="401.0" y="464.8" font-size="15.2" font-weight="normal" text-anchor="start" fill="#000" textLength="65.7" lengthAdjust="spacingAndGlyphs" stroke="#000" stroke-width="0.4"  style="">a=25 nm</text>
<text x="0" y="0" font-size="12" font-weight="bold" transform="translate(306.2,470.2) rotate(-90)" textLength="41" lengthAdjust="spacingAndGlyphs">light line</text>
<text x="0" y="0" font-size="11.8" font-weight="bold" transform="translate(336.6,481.0) rotate(-74.5)" textLength="63.5" lengthAdjust="spacingAndGlyphs">light line (Si)</text>
<polygon points="62.5,307.2 156.0,254.8 314.0,254.8 220.5,307.2" fill="#e6e6e7" stroke="#111" stroke-width="1.1" stroke-linejoin="round"/>
<polygon points="220.5,307.2 314.0,254.8 314.0,273.1 220.5,325.5" fill="#e8e8e9" stroke="#111" stroke-width="1.1"/>
<rect x="62.5" y="307.2" width="158.0" height="18.3" fill="#e4e5e7" stroke="#111" stroke-width="1.1"/>
<rect x="62.5" y="325.5" width="158.0" height="3.6" fill="#e3d734" stroke="#222" stroke-width="0.9"/>
<polygon points="220.5,325.5 314.0,273.1 314.0,276.70000000000005 220.5,329.1" fill="#e3d734" stroke="#222" stroke-width="0.9"/>
<polygon points="114.3,305.6 165.4,305.6 184.0,295.40000000000003 132.9,295.40000000000003" fill="#a9c3d3" stroke="#333" stroke-width="1"/>
<polygon points="137.6,292.5 188.6,292.5 207.2,282.3 156.2,282.3" fill="#a9c3d3" stroke="#333" stroke-width="1"/>
<polygon points="159.3,280.1 209.8,280.1 227.8,270.20000000000005 177.3,270.20000000000005" fill="#a9c3d3" stroke="#333" stroke-width="1"/>
<polygon points="180.5,267.6 231.5,267.6 249.5,257.70000000000005 198.5,257.70000000000005" fill="#a9c3d3" stroke="#333" stroke-width="1"/>
<text x="81.0" y="321.3" font-size="12.3" font-weight="bold" text-anchor="start" fill="#000"  style="">h</text>
<line x1="93.1" y1="309" x2="93.1" y2="325.5" stroke="#222" stroke-width="1.2"/>
<polyline points="89.8,312.6 93.1,308.6 96.4,312.6" fill="none" stroke="#000" stroke-width="1.4"/>
<polyline points="89.8,321.6 93.1,325.6 96.4,321.6" fill="none" stroke="#000" stroke-width="1.4"/>
<text x="95.9" y="340.9" font-size="16" font-weight="normal" text-anchor="start" fill="#000" textLength="93.5" lengthAdjust="spacingAndGlyphs" stroke="#000" stroke-width="0.4"  style="">ground plane</text>
<line x1="180.4" y1="1.5" x2="182.3" y2="9.6" stroke="#8a8a8a" stroke-width="1.4"/>
</svg></body></html>
